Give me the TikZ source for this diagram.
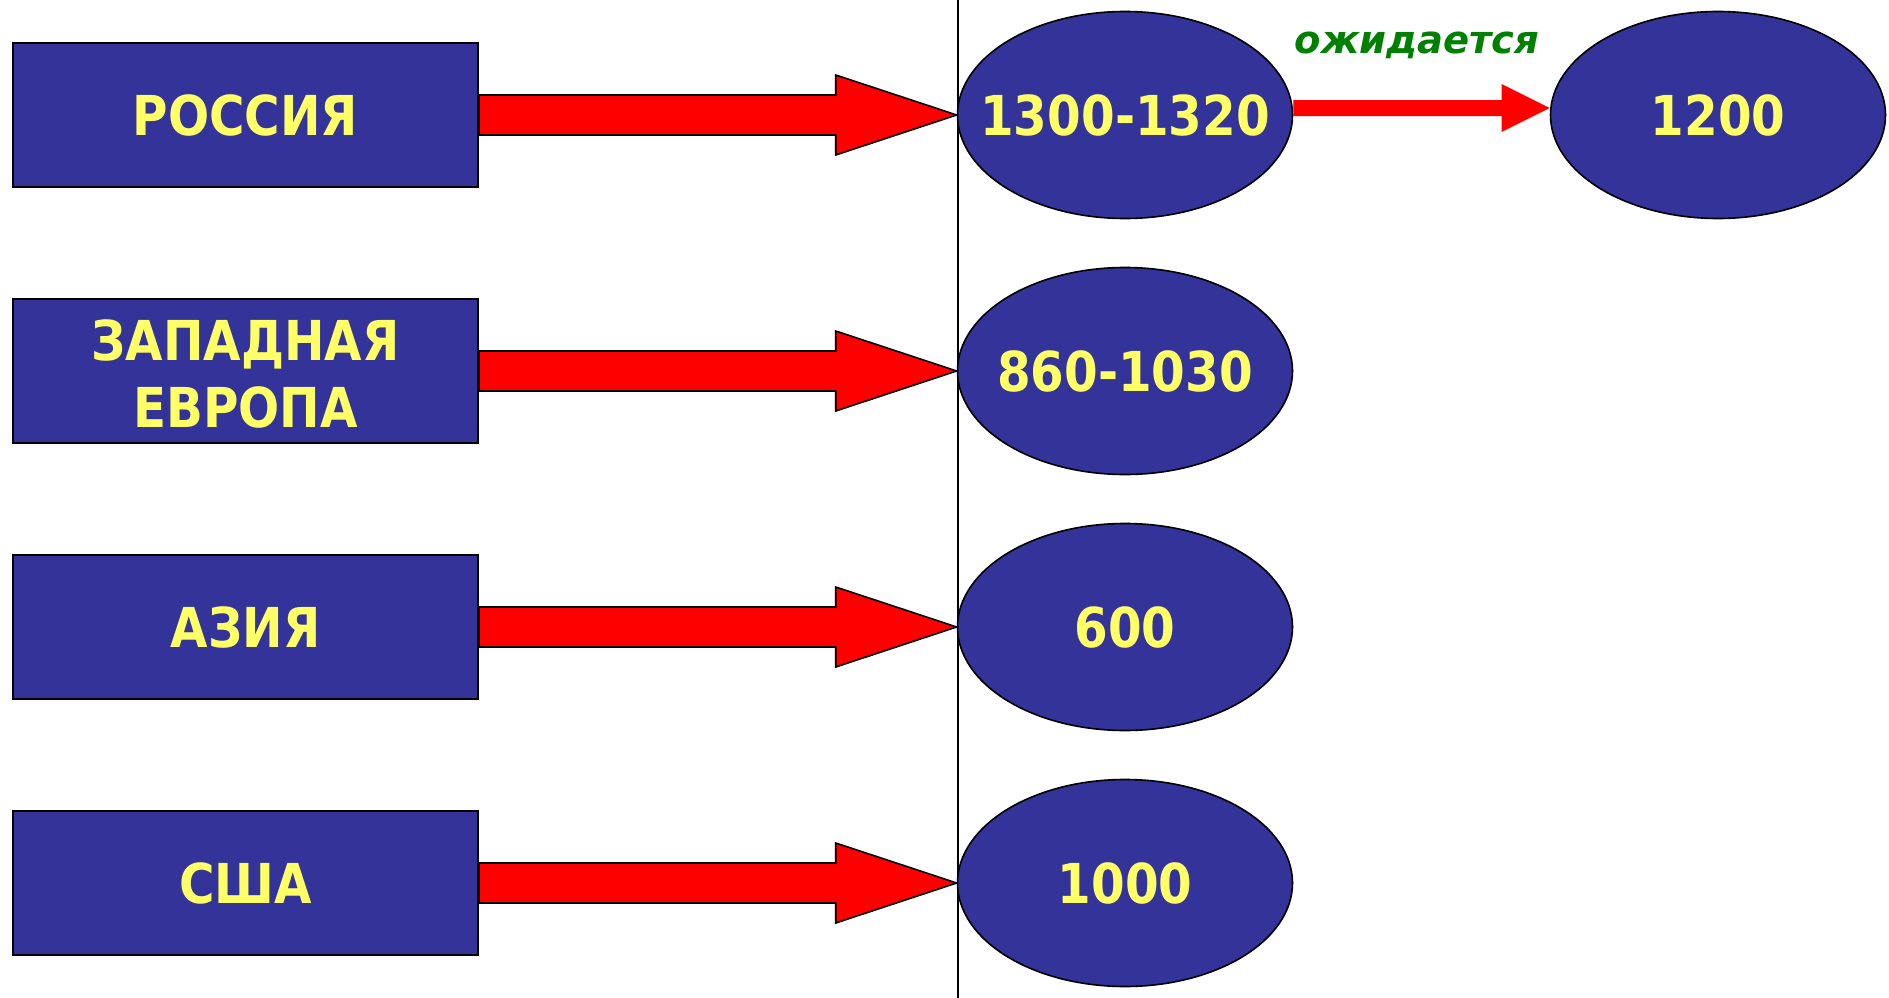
\documentclass[tikz,border=0pt]{standalone}
\usepackage{fontspec}
\setmainfont{DejaVu Sans}
\usetikzlibrary{shapes.geometric,calc}
\definecolor{boxblue}{RGB}{51,51,153}
\definecolor{txtyellow}{RGB}{255,255,102}
\definecolor{arrred}{RGB}{255,0,0}
\definecolor{txtgreen}{RGB}{0,128,0}
\newcommand\sqz[1]{\scalebox{0.88}[1]{#1}}
\newcommand\zw[1]{\makebox[0pt]{\sqz{#1}}}
\tikzset{
  country/.style={draw=black, line width=2pt, fill=boxblue, text=txtyellow,
    minimum width=465pt, minimum height=144pt, inner sep=0pt,
    font=\fontsize{55}{64}\selectfont\bfseries, align=center},
  value/.style={ellipse, draw=black, line width=1.6pt, fill=boxblue, text=txtyellow,
    minimum width=335pt, minimum height=207pt, inner sep=0pt,
    font=\fontsize{55}{64}\selectfont\bfseries},
  bigarrow/.style={draw=black, line width=1.6pt, fill=arrred, line join=miter},
  smallarrow/.style={fill=arrred, draw=none},
}
\begin{document}
\begin{tikzpicture}[x=1pt, y=-1pt]
\useasboundingbox (0,0) rectangle (1889,998);
\coordinate (vtop) at (958,0);
\coordinate (vbot) at (958,998);
\draw[line width=2pt] (vtop) -- (vbot);

\node[country] (r1) at (245.5,115) {\sqz{РОССИЯ}};
\node[country] (r2) at (245.5,371) {\raisebox{-10pt}[\height][\depth]{\sqz{\begin{tabular}{@{}c@{}}ЗАПАДНАЯ\\[3pt]ЕВРОПА\end{tabular}}}};
\node[country] (r3) at (245.5,627) {\sqz{АЗИЯ}};
\node[country] (r4) at (245.5,883) {\sqz{США}};

\node[value] (e1) at (1125,115) {\zw{1300-1320}};
\node[value] (e2) at (1125,371) {\zw{860-1030}};
\node[value] (e3) at (1125,627) {\zw{600}};
\node[value] (e4) at (1125,883) {\zw{1000}};
\node[value] (f1) at (1718,115) {\zw{1200}};

\foreach \a/\b in {r1/e1, r2/e2, r3/e3, r4/e4}{
  \draw[bigarrow] ($(\a.east)+(0,-20)$) -- ($(\b.west)+(-121,-20)$) -- ($(\b.west)+(-121,-40)$)
    -- (\b.west) -- ($(\b.west)+(-121,40)$) -- ($(\b.west)+(-121,20)$) -- ($(\a.east)+(0,20)$) -- cycle;
}

\fill[smallarrow] ($(e1.east)+(0,-15)$) -- ($(f1.west)+(-48,-15)$) -- ($(f1.west)+(-48,-31)$)
  -- ($(f1.west)+(0,-7)$) -- ($(f1.west)+(-48,17)$) -- ($(f1.west)+(-48,1)$) -- ($(e1.east)+(0,1)$) -- cycle;

\node[text=txtgreen, anchor=base, inner sep=0pt, font=\fontsize{38.5}{40}\selectfont\bfseries\itshape] (lbl) at (1417,53) {ожидается};
\end{tikzpicture}
\end{document}
